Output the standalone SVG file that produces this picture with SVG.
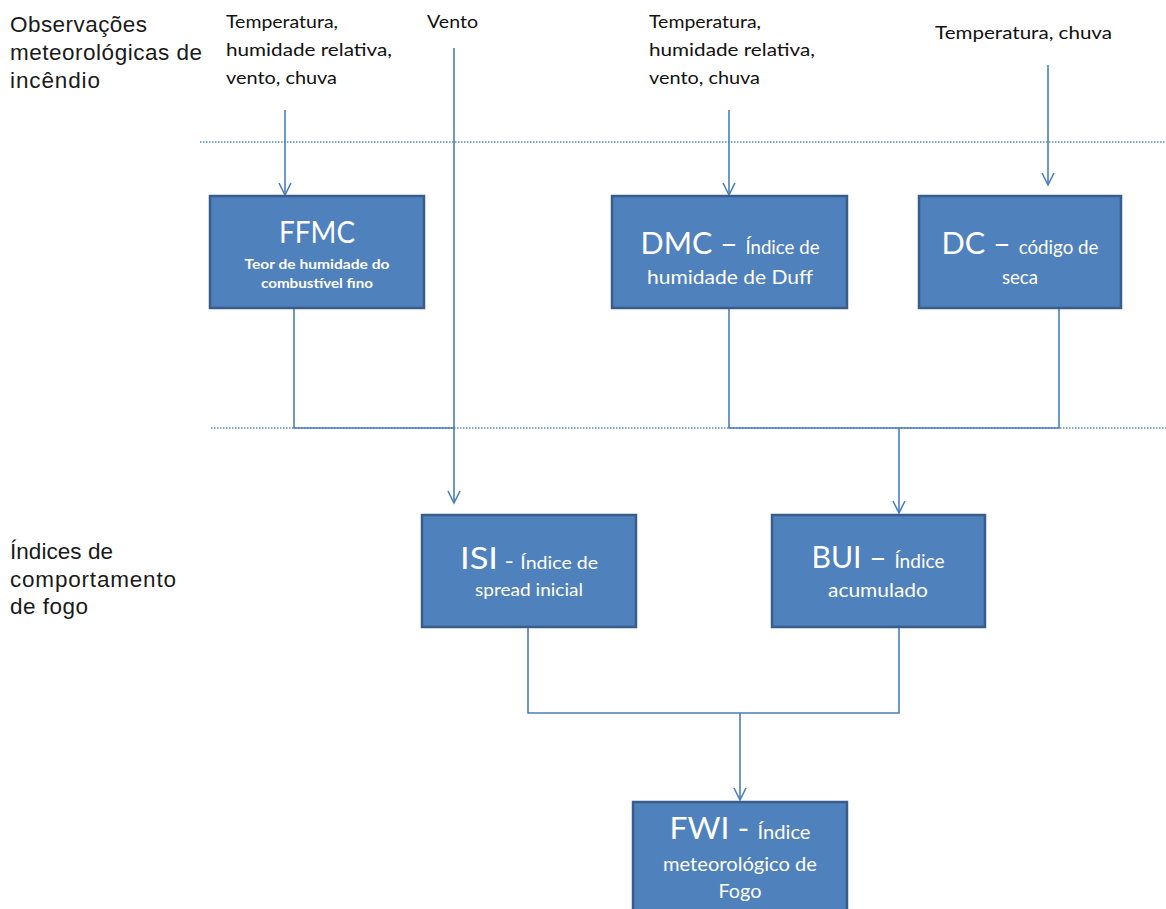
<svg xmlns="http://www.w3.org/2000/svg" width="1166" height="909" viewBox="0 0 1166 909">
<style>
.box{fill:#4F81BD;stroke:#385D8A;stroke-width:2.5}
.con{fill:none;stroke:#4A7EBB;stroke-width:1.6}
.dot{fill:none;stroke:#5B8AC4;stroke-width:1.3;stroke-dasharray:1.5 1.5}
.lbl{font-family:"Liberation Sans",Arial,sans-serif;font-size:22.5px;fill:#1a1a1a}
.in{font-family:Lato,"Open Sans",sans-serif;font-size:18px;fill:#111}
.bt{font-family:Lato,"Open Sans",sans-serif;fill:#fff;text-anchor:middle}
</style>
<defs>
<marker id="arr" markerUnits="userSpaceOnUse" markerWidth="16" markerHeight="16" viewBox="-14 -8 16 16" refX="0" refY="0" orient="auto">
<path d="M-12,-6 L0,0 L-12,6" fill="none" stroke="#4A7EBB" stroke-width="1.6"/>
</marker>
</defs>
<rect width="1166" height="909" fill="#fff"/>

<g id="labels">
<text class="lbl" x="10" y="32" textLength="137" lengthAdjust="spacing">Observações</text>
<text class="lbl" x="10" y="60" textLength="192" lengthAdjust="spacing">meteorológicas de</text>
<text class="lbl" x="10" y="88" textLength="90" lengthAdjust="spacing">incêndio</text>
<text class="lbl" x="10" y="559" textLength="103" lengthAdjust="spacing">Índices de</text>
<text class="lbl" x="10" y="587" textLength="166" lengthAdjust="spacing">comportamento</text>
<text class="lbl" x="10" y="614" textLength="78" lengthAdjust="spacing">de fogo</text>

<text class="in" x="226" y="28" textLength="112" lengthAdjust="spacingAndGlyphs">Temperatura,</text>
<text class="in" x="226" y="56" textLength="166" lengthAdjust="spacingAndGlyphs">humidade relativa,</text>
<text class="in" x="226" y="84" textLength="111" lengthAdjust="spacingAndGlyphs">vento, chuva</text>
<text class="in" x="427" y="28" textLength="51" lengthAdjust="spacingAndGlyphs">Vento</text>
<text class="in" x="649" y="28" textLength="112" lengthAdjust="spacingAndGlyphs">Temperatura,</text>
<text class="in" x="649" y="56" textLength="166" lengthAdjust="spacingAndGlyphs">humidade relativa,</text>
<text class="in" x="649" y="84" textLength="111" lengthAdjust="spacingAndGlyphs">vento, chuva</text>
<text class="in" x="935" y="39" textLength="177" lengthAdjust="spacingAndGlyphs">Temperatura, chuva</text>
</g>

<g id="separators">
<line class="dot" x1="200" y1="142" x2="1166" y2="142"/>
<line class="dot" x1="211" y1="428" x2="1166" y2="428"/>
</g>

<g id="connectors">
<line class="con" x1="285" y1="110" x2="285" y2="195" marker-end="url(#arr)"/>
<line class="con" x1="454" y1="48" x2="454" y2="503" marker-end="url(#arr)"/>
<line class="con" x1="729" y1="110" x2="729" y2="195" marker-end="url(#arr)"/>
<line class="con" x1="1048" y1="65" x2="1048" y2="185" marker-end="url(#arr)"/>
<polyline class="con" points="294,308 294,428 454,428"/>
<polyline class="con" points="729,308 729,428 1059,428 1059,308"/>
<line class="con" x1="899" y1="428" x2="899" y2="513" marker-end="url(#arr)"/>
<polyline class="con" points="528,627 528,713 899,713 899,627"/>
<line class="con" x1="740" y1="713" x2="740" y2="800" marker-end="url(#arr)"/>
</g>

<g id="ffmc">
<rect class="box" x="210" y="196" width="214" height="112"/>
<text class="bt" x="317" y="243" font-size="30" textLength="76" lengthAdjust="spacingAndGlyphs">FFMC</text>
<text class="bt" x="317" y="269" font-size="14" font-weight="bold" textLength="145" lengthAdjust="spacingAndGlyphs">Teor de humidade do</text>
<text class="bt" x="317" y="288" font-size="14" font-weight="bold" textLength="112" lengthAdjust="spacingAndGlyphs">combustível fino</text>
</g>

<g id="dmc">
<rect class="box" x="612" y="196" width="235" height="112"/>
<text class="bt" x="730" y="254" textLength="179" lengthAdjust="spacingAndGlyphs"><tspan font-size="31">DMC – </tspan><tspan font-size="19">Índice de</tspan></text>
<text class="bt" x="730" y="284" font-size="20" textLength="166" lengthAdjust="spacingAndGlyphs">humidade de Duff</text>
</g>

<g id="dc">
<rect class="box" x="919" y="196" width="202" height="112"/>
<text class="bt" x="1020" y="254" textLength="157" lengthAdjust="spacingAndGlyphs"><tspan font-size="31">DC – </tspan><tspan font-size="19">código de</tspan></text>
<text class="bt" x="1020" y="284" font-size="20" textLength="36" lengthAdjust="spacingAndGlyphs">seca</text>
</g>

<g id="isi">
<rect class="box" x="422" y="515" width="214" height="112"/>
<text class="bt" x="529" y="569" textLength="138" lengthAdjust="spacingAndGlyphs"><tspan font-size="30">ISI</tspan><tspan font-size="22">  - </tspan><tspan font-size="17">Índice de</tspan></text>
<text class="bt" x="529" y="596" font-size="18" textLength="108" lengthAdjust="spacingAndGlyphs">spread inicial</text>
</g>

<g id="bui">
<rect class="box" x="772" y="515" width="213" height="112"/>
<text class="bt" x="878" y="568" textLength="133" lengthAdjust="spacingAndGlyphs"><tspan font-size="30">BUI – </tspan><tspan font-size="19">Índice</tspan></text>
<text class="bt" x="878" y="597" font-size="20" textLength="100" lengthAdjust="spacingAndGlyphs">acumulado</text>
</g>

<g id="fwi">
<rect class="box" x="633" y="802" width="214" height="120"/>
<text class="bt" x="740" y="839" textLength="141" lengthAdjust="spacingAndGlyphs"><tspan font-size="30">FWI - </tspan><tspan font-size="19"> Índice</tspan></text>
<text class="bt" x="740" y="871" font-size="19" textLength="154" lengthAdjust="spacingAndGlyphs">meteorológico de</text>
<text class="bt" x="740" y="898" font-size="19" textLength="43" lengthAdjust="spacingAndGlyphs">Fogo</text>
</g>
</svg>
